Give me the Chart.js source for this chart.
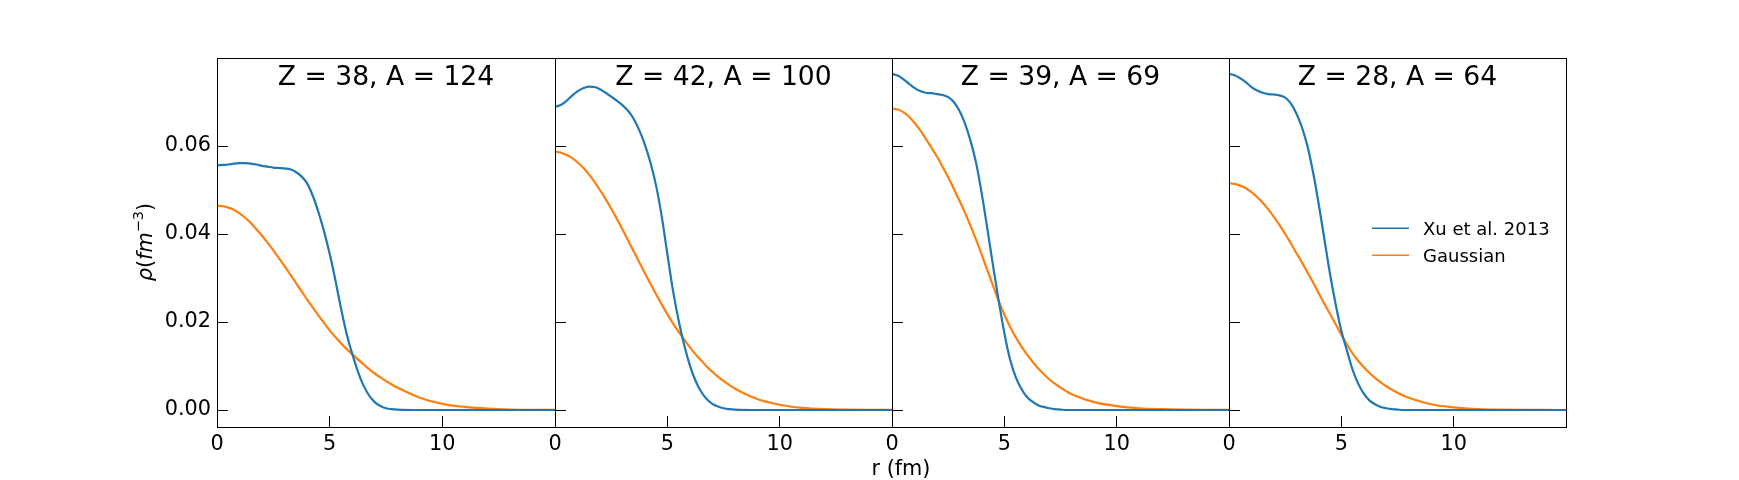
<!DOCTYPE html>
<html>
<head>
<meta charset="utf-8">
<script src="https://cdn.jsdelivr.net/npm/chart.js@4.4.1/dist/chart.umd.min.js"></script>
<style>
  html, body { margin: 0; padding: 0; background: #fff; }
  #fig { position: relative; width: 1739px; height: 480px; overflow: hidden; }
  #fig canvas { position: absolute; top: 0; }
</style>
</head>
<body>
<div id="fig"></div>
<script>
// ── Data ──────────────────────────────────────────────

const R = [0, 0.25, 0.5, 0.75, 1, 1.25, 1.5, 1.75, 2, 2.25, 2.5, 2.75, 3, 3.25, 3.5, 3.75,
           4, 4.25, 4.5, 4.75, 5, 5.25, 5.5, 5.75, 6, 6.25, 6.5, 6.75, 7, 7.25, 7.5, 7.75,
           8, 9, 10, 11, 12, 13, 14, 15];

const titles       = ['Z = 38, A = 124', 'Z = 42, A = 100', 'Z = 39, A = 69', 'Z = 28, A = 64'];
const seriesLabels = ['Xu et al. 2013', 'Gaussian'];
const xTicks       = [0, 5, 10];
const yTicks       = [0, 0.02, 0.04, 0.06];

const xu38 = [.0556, .0557, .0558, .0560, .0561, .0561, .0560, .0558, .0555, .0553, .0551, .0550,
              .0549, .0547, .0541, .0531, .0515, .0487, .0450, .0406, .0355, .0296, .0232, .0174,
              .0128, .0088, .0056, .0033, .0018, .0009, .0004, .0002, .0001, 0, 0, 0, 0, 0, 0, 0];
const gauss38 = [.0464, .0463, .0460, .0455, .0447, .0437, .0425, .0411, .0396, .0380, .0363, .0345,
                 .0327, .0308, .0289, .0270, .0251, .0233, .0215, .0198, .0181, .0166, .0152, .0139,
                 .0127, .0115, .0104, .0093, .0083, .0074, .0066, .0058, .0051, .0028, .0014, .0007,
                 .0003, .0001, .00005, .00002];

const xu42 = [.0689, .0693, .0702, .0714, .0724, .0731, .0735, .0734, .0729, .0721, .0712, .0703,
              .0693, .0680, .0662, .0636, .0603, .0562, .0510, .0440, .0355, .0272, .0204, .0148,
              .0102, .0067, .0042, .0025, .0014, .0008, .0004, .0002, .0001, 0, 0, 0, 0, 0, 0, 0];
const gauss42 = [.0587, .0585, .0580, .0573, .0563, .0551, .0536, .0519, .0500, .0480, .0458, .0435,
                 .0411, .0386, .0361, .0336, .0311, .0287, .0263, .0240, .0218, .0197, .0178, .0160,
                 .0143, .0127, .0113, .0099, .0087, .0076, .0066, .0057, .0049, .0025, .0012, .0005,
                 .0002, .0001, .00003, .00001];

const xu39 = [.0764, .0760, .0752, .0742, .0732, .0725, .0721, .0720, .0718, .0716, .0711, .0700,
              .0680, .0651, .0611, .0560, .0490, .0410, .0327, .0248, .0175, .0116, .0076, .0049,
              .0030, .0019, .0011, .0007, .0004, .0002, .0001, 0, 0, 0, 0, 0, 0, 0, 0, 0];
const gauss39 = [.0685, .0683, .0677, .0667, .0653, .0636, .0617, .0597, .0576, .0553, .0529, .0503,
                 .0476, .0448, .0418, .0386, .0352, .0317, .0282, .0248, .0217, .0190, .0166, .0145,
                 .0127, .0110, .0095, .0082, .0070, .0060, .0051, .0043, .0036, .0018, .0009, .0004,
                 .0002, .0001, .00004, .00002];

const xu28 = [.0764, .0761, .0754, .0745, .0734, .0726, .0721, .0718, .0717, .0715, .0710, .0697,
              .0674, .0642, .0598, .0538, .0466, .0387, .0308, .0240, .0180, .0135, .0092, .0060,
              .0037, .0022, .0013, .0007, .0004, .0002, .0001, 0, 0, 0, 0, 0, 0, 0, 0, 0];
const gauss28 = [.0515, .0514, .0510, .0504, .0495, .0484, .0471, .0456, .0439, .0420, .0400, .0379,
                 .0357, .0335, .0312, .0289, .0265, .0241, .0218, .0195, .0171, .0149, .0129, .0112,
                 .0097, .0084, .0073, .0063, .0054, .0046, .0039, .0033, .0028, .0013, .0006, .0002,
                 .0001, .00003, .00001, 0];

const xuSeries    = [xu38, xu42, xu39, xu28];
const gaussSeries = [gauss38, gauss42, gauss39, gauss28];

// ── Layout ────────────────────────────────────────────

const FIG_H   = 480;
const TOP     = 58;
const BOTTOM  = 427;
const LEFTS   = [217, 555, 892, 1229];
const RIGHTS  = [555, 892, 1229, 1566];
const BLUE    = '#1f77b4';
const ORANGE  = '#ff7f0e';
const FONT    = 'DejaVu Sans';
const TICK_PX = 20.8;

Chart.defaults.font.family = FONT;
Chart.defaults.color = '#000';

const toPts = ys => R.map((x, i) => ({ x, y: ys[i] }));

// ── Plugins ───────────────────────────────────────────

const framePlugin = {
  id: 'frame',
  afterDraw(chart) {
    const { ctx, chartArea: a } = chart;
    ctx.save();
    ctx.strokeStyle = '#000';
    ctx.lineWidth = 1;
    ctx.strokeRect(Math.round(a.left) + 0.5, Math.round(a.top) + 0.5,
                   Math.round(a.right - a.left), Math.round(a.bottom - a.top));
    ctx.restore();
  }
};

const titlePlugin = {
  id: 'panelTitle',
  afterDraw(chart, args, opts) {
    const { ctx, chartArea: a } = chart;
    ctx.save();
    ctx.font = `26.6px "${FONT}"`;
    ctx.fillStyle = '#000';
    ctx.textAlign = 'center';
    ctx.textBaseline = 'alphabetic';
    ctx.fillText(opts.text, (a.left + a.right) / 2, 85);
    ctx.restore();
  }
};

// y label  ρ(fm^-3), mathtext style
const yLabelPlugin = {
  id: 'yLabel',
  afterDraw(chart, args, opts) {
    const ctx = chart.ctx;
    const big = TICK_PX, small = TICK_PX * 0.7;
    const parts = [
      { t: 'ρ',  f: `italic ${big}px "${FONT}"`, dy: 0 },
      { t: '(',  f: `${big}px "${FONT}"`,        dy: 0 },
      { t: 'fm', f: `italic ${big}px "${FONT}"`, dy: 0 },
      { t: '−3', f: `${small}px "${FONT}"`,      dy: -9 },
      { t: ')',  f: `${big}px "${FONT}"`,        dy: 0 }
    ];
    ctx.save();
    let total = 0;
    parts.forEach(p => { ctx.font = p.f; p.w = ctx.measureText(p.t).width; total += p.w; });
    ctx.translate(opts.x - opts.offX, opts.y);
    ctx.rotate(-Math.PI / 2);
    ctx.fillStyle = '#000';
    ctx.textBaseline = 'alphabetic';
    ctx.textAlign = 'left';
    let x = -total / 2;
    parts.forEach(p => { ctx.font = p.f; ctx.fillText(p.t, x, p.dy); x += p.w; });
    ctx.restore();
  }
};

const xLabelPlugin = {
  id: 'xLabel',
  afterDraw(chart, args, opts) {
    const ctx = chart.ctx;
    ctx.save();
    ctx.font = `${TICK_PX}px "${FONT}"`;
    ctx.fillStyle = '#000';
    ctx.textAlign = 'center';
    ctx.textBaseline = 'middle';
    ctx.fillText(opts.text, opts.x - opts.offX, opts.y);
    ctx.restore();
  }
};

const legendPlugin = {
  id: 'innerLegend',
  afterDraw(chart, args, opts) {
    const ctx = chart.ctx;
    ctx.save();
    ctx.font = `18px "${FONT}"`;
    ctx.textAlign = 'left';
    ctx.textBaseline = 'alphabetic';
    chart.data.datasets.forEach((ds, k) => {
      const yLine = opts.y0 + k * opts.dy;
      ctx.strokeStyle = ds.borderColor;
      ctx.lineWidth = 1.5;
      ctx.beginPath();
      ctx.moveTo(opts.x0 - opts.offX, yLine);
      ctx.lineTo(opts.x0 + 37 - opts.offX, yLine);
      ctx.stroke();
      ctx.fillStyle = '#000';
      ctx.fillText(ds.label, opts.x0 + 51 - opts.offX, yLine + 6.3);
    });
    ctx.restore();
  }
};

// ── Panels ────────────────────────────────────────────

function buildPanel(i) {
  const padL  = i === 0 ? LEFTS[0] : 45;
  const padR  = 20;
  const offX  = LEFTS[i] - padL;
  const width = padL + (RIGHTS[i] - LEFTS[i]) + padR;

  const canvas = document.createElement('canvas');
  canvas.width = width;
  canvas.height = FIG_H;
  canvas.style.left = offX + 'px';
  canvas.style.width = width + 'px';
  canvas.style.height = FIG_H + 'px';
  document.getElementById('fig').appendChild(canvas);

  const plugins = [framePlugin, titlePlugin];
  if (i === 0) plugins.push(yLabelPlugin);
  if (i === 2) plugins.push(xLabelPlugin);
  if (i === 3) plugins.push(legendPlugin);

  return new Chart(canvas, {
    type: 'line',
    data: {
      datasets: [
        { label: seriesLabels[0], data: toPts(xuSeries[i]), borderColor: BLUE, borderWidth: 2.2,
          pointRadius: 0, fill: false, cubicInterpolationMode: 'monotone' },
        { label: seriesLabels[1], data: toPts(gaussSeries[i]), borderColor: ORANGE, borderWidth: 2.2,
          pointRadius: 0, fill: false, cubicInterpolationMode: 'monotone' }
      ]
    },
    options: {
      responsive: false, animation: false, events: [],
      layout: { padding: { left: 0, right: padR, top: TOP, bottom: 0 } },
      plugins: {
        legend: { display: false },
        tooltip: { enabled: false },
        panelTitle: { text: titles[i] },
        yLabel: { x: 152, y: 242, offX },
        xLabel: { text: 'r (fm)', x: 901, y: 470, offX },
        innerLegend: { x0: 1372, y0: 228.3, dy: 27, offX }
      },
      scales: {
        x: {
          type: 'linear', min: 0, max: 15,
          afterBuildTicks: s => { s.ticks = xTicks.map(v => ({ value: v })); },
          afterFit: s => { s.height = FIG_H - BOTTOM; },
          border: { display: false },
          grid: { drawOnChartArea: false, drawTicks: true, tickLength: -11, color: '#000', lineWidth: 1 },
          ticks: { color: '#000', font: { size: TICK_PX }, padding: 16, maxRotation: 0, autoSkip: false,
                   callback: v => String(v) }
        },
        y: {
          type: 'linear', min: -0.00386, max: 0.08,
          afterBuildTicks: s => { s.ticks = yTicks.map(v => ({ value: v })); },
          afterFit: s => { s.width = padL; },
          border: { display: false },
          grid: { drawOnChartArea: false, drawTicks: true, tickLength: -11, color: '#000', lineWidth: 1 },
          ticks: { display: i === 0, color: '#000', font: { size: TICK_PX }, padding: 17,
                   callback: v => v.toFixed(2) }
        }
      }
    },
    plugins
  });
}

const panels = titles.map((t, i) => buildPanel(i));
</script>
</body>
</html>
